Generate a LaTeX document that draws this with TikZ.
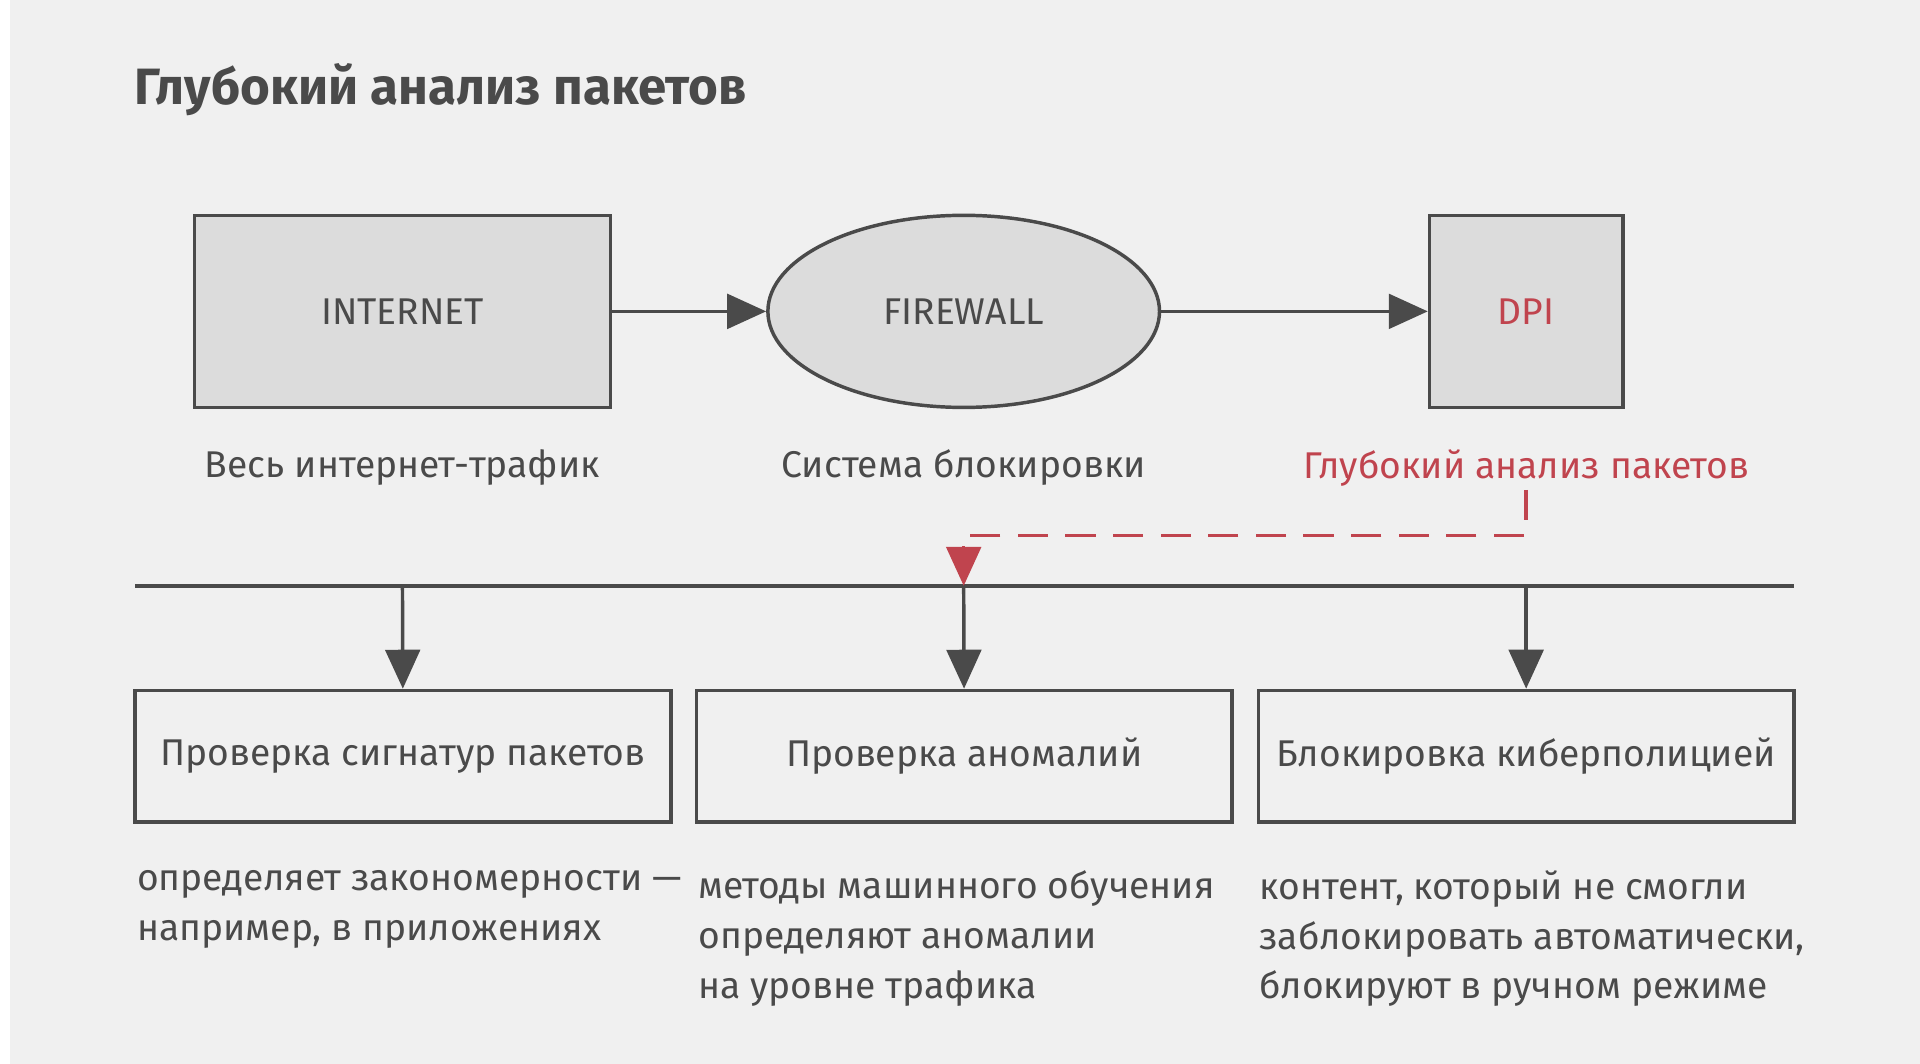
\documentclass[tikz,border=0pt]{standalone}
\usepackage{fontspec}
\setmainfont{Fira Sans}
\usetikzlibrary{shapes.geometric,arrows.meta,positioning}
\definecolor{bgc}{HTML}{F0F0F0}
\definecolor{boxc}{HTML}{DCDCDC}
\definecolor{linec}{HTML}{4A4A4A}
\definecolor{redc}{HTML}{C0444E}
\begin{document}
\begin{tikzpicture}[
        x=0.01cm, y=-0.01cm,
        thick,
        font=\fontsize{8.6pt}{11.5pt}\selectfont,
        text=linec
    ]
    \tikzset{
        topbox/.style = {rectangle, draw=linec, fill=boxc, inner sep=0pt},
        stepbox/.style = {rectangle, draw=linec, minimum width=4.35cm, minimum height=1.07cm, inner sep=0pt},
        caption/.style = {anchor=center},
        descr/.style = {anchor=north west, align=left, inner sep=0pt},
        arr/.style = {-{Triangle[length=9pt,width=8pt]}, linec},
        arrr/.style = {-{Triangle[length=9pt,width=8pt]}, redc, densely dashed, dash pattern=on 7pt off 4pt},
    }
    \useasboundingbox (0,0) rectangle (1560,864.5);
    \fill[white] (0,0) rectangle (1560,864.5);
    \fill[bgc] (8,0) rectangle (1560,866);
    \node[descr, font=\fontsize{11.8pt}{14pt}\selectfont\bfseries] (title) at (108,50) {Глубокий анализ пакетов};
    %
    \node[topbox, minimum width=3.38cm, minimum height=1.56cm] (inet) at (327,253) {INTERNET};
    \node[ellipse, draw=linec, fill=boxc, minimum width=3.18cm, minimum height=1.56cm] (fw) at (783,253) {FIREWALL};
    \node[topbox, minimum width=1.57cm, minimum height=1.56cm, text=redc] (dpi) at (1240,253) {DPI};
    \draw[arr] (inet) -- (fw);
    \draw[arr] (fw) -- (dpi);
    %
    \node[caption] (c1) at (327,380) {Весь интернет-трафик};
    \node[caption] (c2) at (783,380) {Система блокировки};
    \node[caption, text=redc] (c3) at (1240,380) {Глубокий анализ пакетов};
    %
    \coordinate (la) at (110,476);
    \coordinate (lb) at (1458,476);
    \coordinate (l1) at (327,476);
    \coordinate (l2) at (783,476);
    \coordinate (l3) at (1240,476);
    \draw[linec] (la) -- (lb);
    \draw[arrr] (c3.south) ++(0,-10) -- ++(0,37) -| (l2);
    %
    \node[stepbox] (s1) at (327.5,614.5) {Проверка сигнатур пакетов};
    \node[stepbox] (s2) at (783.5,614.5) {Проверка аномалий};
    \node[stepbox] (s3) at (1240,614.5) {Блокировка киберполицией};
    \draw[arr] (l1) -- (s1);
    \draw[arr] (l2) -- (s2);
    \draw[arr] (l3) -- (s3);
    %
    \node[descr] (d1) at (110,706) {определяет закономерности —\\например, в приложениях};
    \node[descr] (d2) at (566,706) {методы машинного обучения\\определяют аномалии\\на уровне трафика};
    \node[descr] (d3) at (1022,706) {контент, который не смогли\\заблокировать автоматически,\\блокируют в ручном режиме};
\end{tikzpicture}
\end{document}
